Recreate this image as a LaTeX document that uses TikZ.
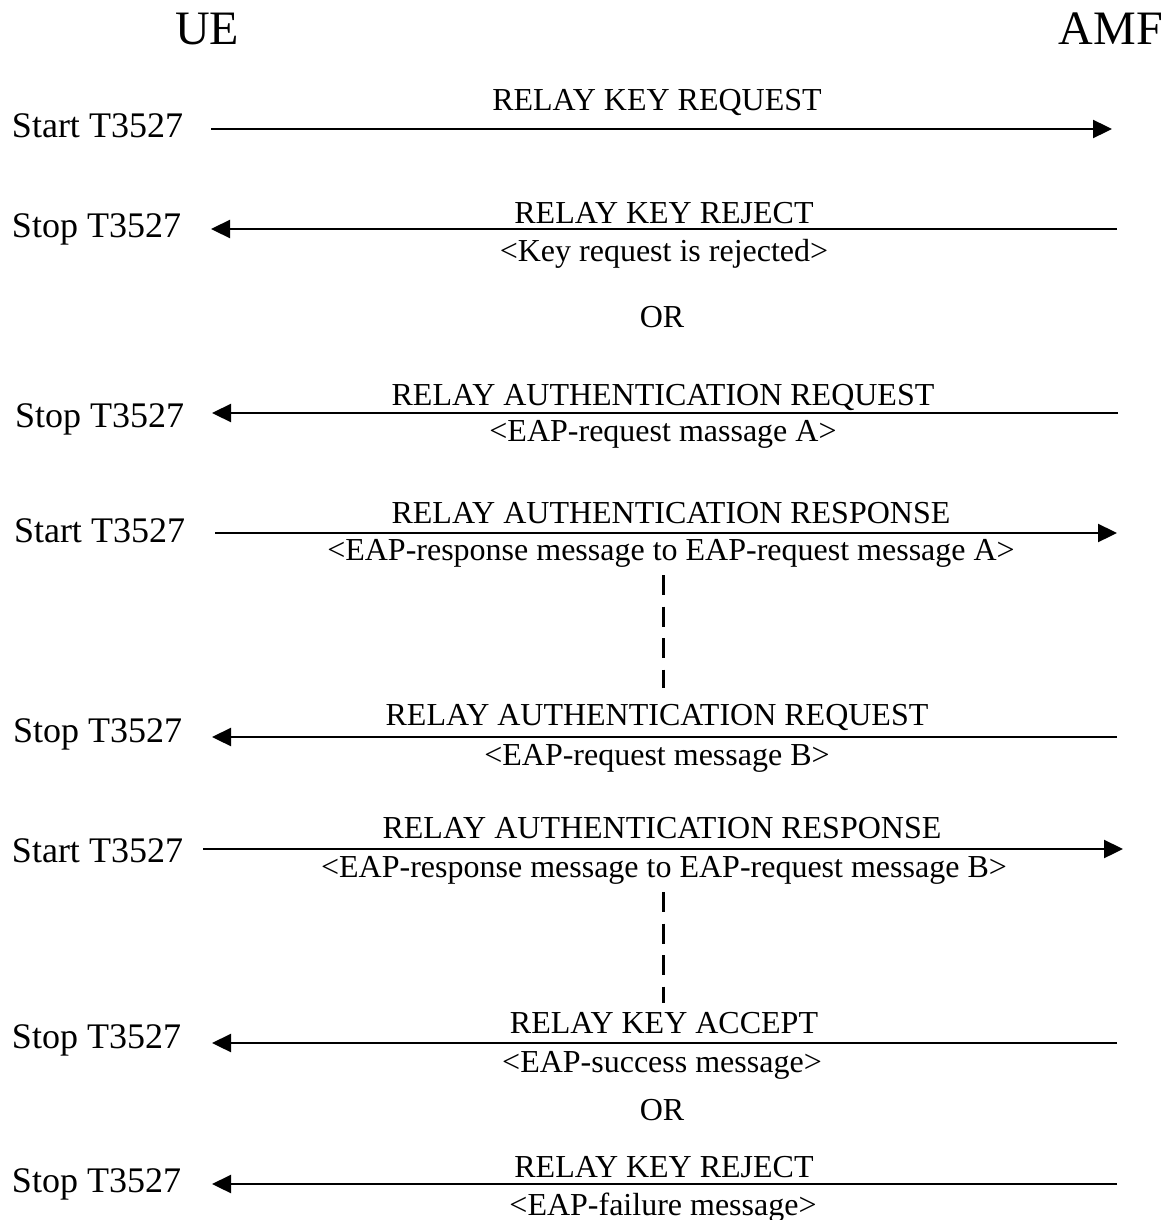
\documentclass[tikz,border=0pt]{standalone}
\usepackage{fontspec}
\setmainfont{Liberation Serif}
\usetikzlibrary{arrows.meta}
\begin{document}
\begin{tikzpicture}[x=1pt,y=-1pt,
  every node/.style={inner sep=0pt,outer sep=0pt,anchor=base},
  title/.style={font=\fontsize{48}{50}\selectfont},
  timer/.style={font=\fontsize{36}{38}\selectfont,anchor=base west},
  msgtxt/.style={font=\fontsize{32}{34}\selectfont},
  msg/.style={line width=2.3pt,-{Triangle[length=19pt,width=18pt]}},
  waitline/.style={line width=3pt,dash pattern=on 20pt off 11.5pt}]
\useasboundingbox (0,0) rectangle (1169,1220);

% titles
\node[title] (ue) at (207,45) {UE};
\node[title] (amf) at (1111,45) {AMF};

% row 1
\node[timer] (t1) at (12,138) {Start T3527};
\node[msgtxt] (m1) at (657,111) {RELAY KEY REQUEST};
\coordinate (a1) at (211,129); \coordinate (b1) at (1112,129);
\draw[msg] (a1) -- (b1);

% row 2
\node[timer] (t2) at (12,237) {Stop T3527};
\node[msgtxt] (m2) at (664,223) {RELAY KEY REJECT};
\node[msgtxt] (n2) at (664,261) {<Key request is rejected>};
\coordinate (a2) at (1117,229); \coordinate (b2) at (211,229);
\draw[msg] (a2) -- (b2);

\node[msgtxt] (or1) at (662,327) {OR};

% row 4
\node[timer] (t4) at (15,427) {Stop T3527};
\node[msgtxt] (m4) at (663,405) {RELAY AUTHENTICATION REQUEST};
\node[msgtxt] (n4) at (663,441) {<EAP-request massage A>};
\coordinate (a4) at (1118,413); \coordinate (b4) at (212,413);
\draw[msg] (a4) -- (b4);

% row 5
\node[timer] (t5) at (14,542) {Start T3527};
\node[msgtxt] (m5) at (671,523) {RELAY AUTHENTICATION RESPONSE};
\node[msgtxt] (n5) at (671,560) {<EAP-response message to EAP-request message A>};
\coordinate (a5) at (215,533); \coordinate (b5) at (1117,533);
\draw[msg] (a5) -- (b5);

% wait 1
\coordinate (w1a) at (663,575); \coordinate (w1b) at (663,688);
\draw[waitline] (w1a) -- (w1b);

% row 7
\node[timer] (t7) at (13,742) {Stop T3527};
\node[msgtxt] (m7) at (657,725) {RELAY AUTHENTICATION REQUEST};
\node[msgtxt] (n7) at (657,765) {<EAP-request message B>};
\coordinate (a7) at (1117,737); \coordinate (b7) at (212,737);
\draw[msg] (a7) -- (b7);

% row 8
\node[timer] (t8) at (12,862) {Start T3527};
\node[msgtxt] (m8) at (662,838) {RELAY AUTHENTICATION RESPONSE};
\node[msgtxt] (n8) at (664,877) {<EAP-response message to EAP-request message B>};
\coordinate (a8) at (203,849); \coordinate (b8) at (1123,849);
\draw[msg] (a8) -- (b8);

% wait 2
\coordinate (w2a) at (663,892); \coordinate (w2b) at (663,1003);
\draw[waitline] (w2a) -- (w2b);

% row 10
\node[timer] (t10) at (12,1048) {Stop T3527};
\node[msgtxt] (m10) at (664,1033) {RELAY KEY ACCEPT};
\node[msgtxt] (n10) at (662,1072) {<EAP-success message>};
\coordinate (a10) at (1117,1043); \coordinate (b10) at (212,1043);
\draw[msg] (a10) -- (b10);

\node[msgtxt] (or2) at (662,1120) {OR};

% row 12
\node[timer] (t12) at (12,1192) {Stop T3527};
\node[msgtxt] (m12) at (664,1177) {RELAY KEY REJECT};
\node[msgtxt] (n12) at (663,1215) {<EAP-failure message>};
\coordinate (a12) at (1117,1184); \coordinate (b12) at (212,1184);
\draw[msg] (a12) -- (b12);
\end{tikzpicture}
\end{document}
